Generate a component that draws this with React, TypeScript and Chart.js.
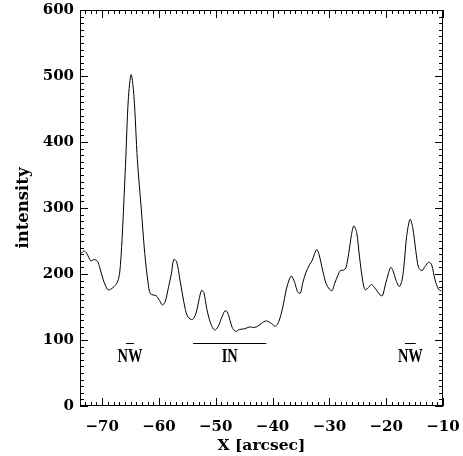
import React, { useEffect, useRef } from "react";
import { Chart, registerables } from "chart.js";

Chart.register(...registerables);

const positionX: number[] = [
  -73.9, -73.6, -73.2, -72.7, -72.0, -71.4, -70.8, -70.4, -69.8, -69.1, -68.7, -67.9, -67.3, -66.9, -66.5,
  -65.9, -65.4, -64.9, -64.4, -63.8, -63.1, -62.5, -61.9, -61.5, -60.5, -59.9, -59.4, -58.9, -58.3, -57.8,
  -57.4, -56.9, -56.3, -55.4, -54.9, -54.1, -53.5, -52.9, -52.5, -52.1, -51.6, -50.9, -50.2, -49.6, -49.0,
  -48.4, -48.0, -47.5, -47.1, -46.5, -45.8, -44.9, -44.0, -43.5, -42.8, -42.0, -41.1, -40.2, -39.5, -38.9,
  -38.2, -37.6, -37.1, -36.7, -36.1, -35.6, -35.1, -34.7, -34.1, -33.5, -33.0, -32.6, -32.2, -31.8, -31.2,
  -30.6, -30.0, -29.5, -29.1, -28.5, -28.1, -27.5, -27.1, -26.6, -26.1, -25.7, -25.2, -24.7, -24.1, -23.7,
  -23.1, -22.6, -22.1, -21.5, -20.9, -20.6, -20.2, -19.6, -19.2, -18.8, -18.3, -17.7, -17.2, -16.8, -16.4,
  -15.8, -15.3, -14.8, -14.3, -13.7, -13.2, -12.5, -12.0, -11.4, -10.8, -10.3,
];

const intensity: number[] = [
  230, 232, 235, 231, 220, 222, 219, 209, 191, 177, 176, 181, 188, 203, 252,
  363, 464, 502, 469, 373, 297, 231, 186, 170, 167, 160, 153, 158, 181, 201,
  222, 219, 191, 148, 135, 131, 140, 163, 175, 172, 148, 125, 115, 120, 133,
  144, 143, 130, 119, 113, 116, 117, 120, 119, 120, 125, 129, 125, 121, 128,
  150, 176, 191, 197, 187, 173, 171, 186, 203, 214, 221, 231, 237, 229, 206,
  186, 177, 175, 185, 198, 205, 206, 209, 231, 260, 273, 263, 226, 188, 176,
  180, 184, 180, 173, 167, 168, 182, 201, 210, 205, 191, 181, 191, 219, 257,
  283, 269, 236, 210, 205, 211, 218, 214, 191, 177, 174,
];

const xMajorTicks: number[] = [-70, -60, -50, -40, -30, -20, -10];
const yMajorTicks: number[] = [0, 100, 200, 300, 400, 500, 600];

// Region markers: label, x start, x end
const regionLabels: string[] = ["NW", "IN", "NW"];
const regionStart: number[] = [-65.8, -54.0, -16.7];
const regionEnd: number[] = [-64.4, -41.1, -14.8];
const regionLineLevel = 96;
const regionTextLevel = 74;

const X_MIN = -73.9;
const X_MAX = -10;
const Y_MIN = 0;
const Y_MAX = 600;

const SERIF = '"DejaVu Serif", serif';

const fmt = (v: number) => (v < 0 ? "\u2212" + Math.abs(v) : String(v));

const boxPlugin = {
  id: "idlBox",
  afterDraw(chart: any) {
    const { ctx, chartArea, scales } = chart;
    const xs = scales.x;
    const ys = scales.y;
    const { left, right, top, bottom } = chartArea;
    ctx.save();
    ctx.strokeStyle = "#000";
    ctx.lineWidth = 1;
    ctx.strokeRect(left + 0.5, top + 0.5, right - left - 1, bottom - top - 1);
    ctx.beginPath();
    for (let v = Math.ceil(X_MIN); v <= X_MAX; v += 1) {
      const px = Math.round(xs.getPixelForValue(v)) + 0.5;
      const len = v % 10 === 0 ? 8 : 4;
      ctx.moveTo(px, bottom);
      ctx.lineTo(px, bottom - len);
      ctx.moveTo(px, top);
      ctx.lineTo(px, top + len);
    }
    for (let v = Y_MIN; v <= Y_MAX; v += 10) {
      const py = Math.round(ys.getPixelForValue(v)) + 0.5;
      const len = v % 100 === 0 ? 8 : 4;
      ctx.moveTo(left, py);
      ctx.lineTo(left + len, py);
      ctx.moveTo(right, py);
      ctx.lineTo(right - len, py);
    }
    ctx.stroke();

    ctx.fillStyle = "#000";
    ctx.font = 'bold 17px "Liberation Serif", serif';
    ctx.textAlign = "center";
    ctx.textBaseline = "middle";
    regionLabels.forEach((label, i) => {
      const x0 = xs.getPixelForValue(regionStart[i]);
      const x1 = xs.getPixelForValue(regionEnd[i]);
      const ly = Math.round(ys.getPixelForValue(regionLineLevel)) + 0.5;
      ctx.beginPath();
      ctx.moveTo(x0, ly);
      ctx.lineTo(x1, ly);
      ctx.stroke();
      const ty = ys.getPixelForValue(regionTextLevel);
      const cx = (x0 + x1) / 2;
      ctx.save();
      ctx.translate(cx, ty);
      ctx.scale(0.85, 1.1);
      ctx.fillText(label, 0, 0);
      ctx.restore();
    });
    ctx.restore();
  },
};

export default function App() {
  const ref = useRef<HTMLCanvasElement | null>(null);
  useEffect(() => {
    if (!ref.current) return;
    const chart = new Chart(ref.current, {
      type: "line",
      data: {
        datasets: [
          {
            data: positionX.map((x, i) => ({ x, y: intensity[i] })),
            borderColor: "#000",
            borderWidth: 1,
            pointRadius: 0,
            tension: 0.3,
            fill: false,
          },
        ],
      },
      options: {
        responsive: false,
        animation: false,
        devicePixelRatio: 1,
        layout: { padding: { left: 0, top: 10, right: 20, bottom: 0 } },
        plugins: { legend: { display: false }, tooltip: { enabled: false } },
        scales: {
          x: {
            type: "linear",
            min: X_MIN,
            max: X_MAX,
            grid: { display: false, drawTicks: false },
            border: { display: false },
            afterBuildTicks: (scale: any) => {
              scale.ticks = xMajorTicks.map((value) => ({ value }));
            },
            afterFit: (scale: any) => {
              scale.height = 50;
              scale.paddingLeft = 0;
              scale.paddingRight = 0;
            },
            ticks: {
              autoSkip: false,
              maxRotation: 0,
              padding: 12,
              color: "#000",
              font: { family: SERIF, size: 15, weight: "bold" },
              callback: (v: any) => fmt(Number(v)),
            },
            title: {
              display: true,
              text: "X [arcsec]",
              color: "#000",
              padding: { top: 0, bottom: 1 },
              font: { family: SERIF, size: 15.5, weight: "bold" },
            },
          },
          y: {
            min: Y_MIN,
            max: Y_MAX,
            grid: { display: false, drawTicks: false },
            border: { display: false },
            afterBuildTicks: (scale: any) => {
              scale.ticks = yMajorTicks.map((value) => ({ value }));
            },
            afterFit: (scale: any) => {
              scale.width = 80;
              scale.paddingTop = 0;
              scale.paddingBottom = 0;
            },
            ticks: {
              padding: 6,
              color: "#000",
              font: { family: SERIF, size: 15, weight: "bold" },
              callback: (v: any) => fmt(Number(v)),
            },
            title: {
              display: true,
              text: "intensity",
              color: "#000",
              padding: { top: 14, bottom: 0 },
              font: { family: SERIF, size: 16.5, weight: "bold" },
            },
          },
        },
      },
      plugins: [boxPlugin],
    });
    return () => chart.destroy();
  }, []);
  return (
    <div style={{ position: "absolute", left: 0, top: 0, width: 463, height: 456, background: "#fff" }}>
      <canvas ref={ref} width={463} height={456} />
    </div>
  );
}
